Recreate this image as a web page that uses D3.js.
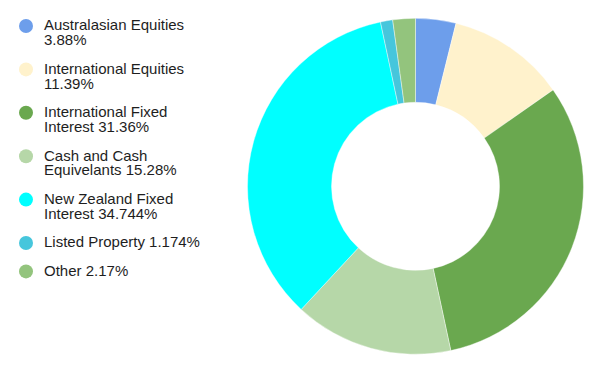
<!DOCTYPE html>
<html>
<head>
<meta charset="utf-8">
<script src="https://cdn.jsdelivr.net/npm/d3@7"></script>
<style>
  body { margin: 0; background: #fff; }
  svg { display: block; }
  .legend text { font-family: "Liberation Sans", Arial, sans-serif; font-size: 15px; fill: #1e1e1e; }
</style>
</head>
<body>
<div id="chart"></div>
<script>
var categories = ['Australasian Equities', 'International Equities', 'International Fixed Interest',
  'Cash and Cash Equivelants', 'New Zealand Fixed Interest', 'Listed Property', 'Other']
var values = [3.88, 11.39, 31.36, 15.28, 34.744, 1.174, 2.17]
var colors = ['#6d9eeb', '#fff2cc', '#6aa84f', '#b6d7a8', '#00ffff', '#46c6dc', '#93c47d']

var width = 602, height = 373
var cx = 415.5, cy = 186.3, outerR = 168, innerR = 84
var legendX = 26, legendY = 26, textX = 44, lineH = 15, itemGap = 13.4, wrapWidth = 168

var svg = d3.select('#chart').append('svg').attr('width', width).attr('height', height)

var data = categories.map((c, i) => ({ name: c, value: values[i], color: colors[i] }))

// donut
var pie = d3.pie().sort(null).value(d => d.value)
var arc = d3.arc().innerRadius(innerR).outerRadius(outerR)

svg.append('g')
  .attr('transform', 'translate(' + cx + ',' + cy + ')')
  .selectAll('path')
  .data(pie(data))
  .enter().append('path')
  .attr('d', arc)
  .attr('fill', d => d.data.color)
  .attr('stroke', '#fff')
  .attr('stroke-width', 0.4)

// legend
var legend = svg.append('g').classed('legend', true)
var y = legendY
data.forEach(d => {
  var g = legend.append('g').attr('transform', 'translate(0,' + y + ')')
  g.append('circle').attr('cx', legendX).attr('cy', 0).attr('r', 7).attr('fill', d.color)
  var text = g.append('text').attr('x', textX).attr('y', 4.3)
  // wrap words into lines
  var words = (d.name + ' ' + d.value + '%').split(' ')
  var line = [], lines = 1
  var tspan = text.append('tspan').attr('x', textX).attr('dy', 0)
  words.forEach(w => {
    line.push(w)
    tspan.text(line.join(' '))
    if (tspan.node().getComputedTextLength() > wrapWidth && line.length > 1) {
      line.pop()
      tspan.text(line.join(' '))
      line = [w]
      tspan = text.append('tspan').attr('x', textX).attr('dy', lineH).text(w)
      lines++
    }
  })
  y += lines * lineH + itemGap
})
</script>
</body>
</html>
